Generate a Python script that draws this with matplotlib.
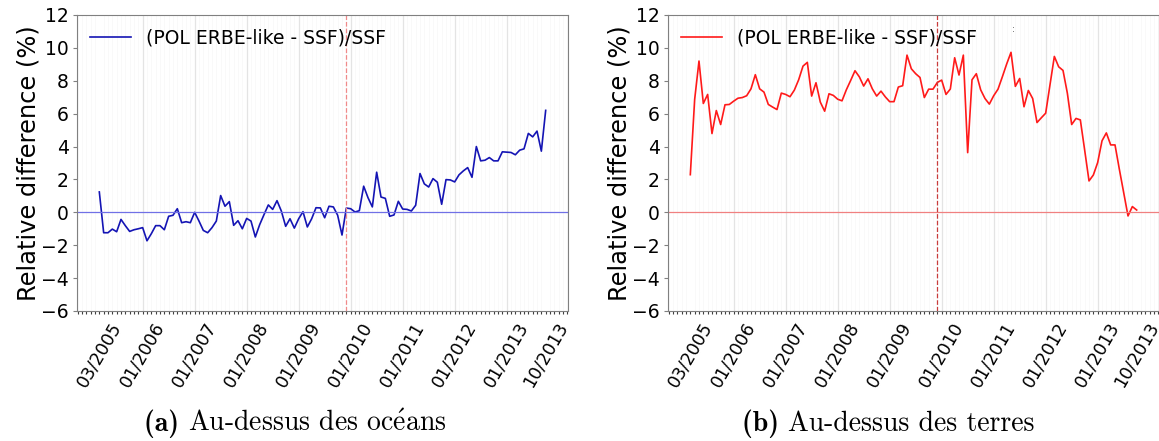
import numpy as np
import matplotlib
matplotlib.use("Agg")
import matplotlib.pyplot as plt
from matplotlib.ticker import MultipleLocator

plt.rcParams['mathtext.fontset'] = 'cm'

# monthly series, 03/2005 -> 10/2013
ocean_diff = [1.24, -1.24, -1.24, -1.02, -1.18, -0.43, -0.81, -1.16, -1.06, -1.00,
              -0.93, -1.73, -1.30, -0.81, -0.81, -1.06, -0.24, -0.18, 0.22, -0.63,
              -0.57, -0.63, 0.00, -0.53, -1.10, -1.24, -0.93, -0.53, 1.02, 0.37,
              0.65, -0.79, -0.51, -1.00, -0.37, -0.53, -1.50, -0.75, -0.14, 0.45,
              0.18, 0.71, 0.08, -0.85, -0.39, -0.96, -0.39, 0.04, -0.89, -0.39,
              0.28, 0.27, -0.33, 0.37, 0.33, -0.18, -1.38, 0.26, 0.22, 0.02,
              0.10, 1.59, 0.89, 0.33, 2.44, 0.93, 0.85, -0.24, -0.16, 0.67,
              0.20, 0.18, 0.08, 0.43, 2.36, 1.73, 1.54, 2.05, 1.83, 0.49,
              1.99, 1.97, 1.85, 2.28, 2.52, 2.72, 2.13, 4.00, 3.13, 3.17,
              3.33, 3.13, 3.13, 3.68, 3.66, 3.64, 3.50, 3.78, 3.86, 4.80,
              4.59, 4.94, 3.72, 6.20]

land_diff = [2.29, 6.86, 9.20, 6.62, 7.17, 4.79, 6.19, 5.34, 6.54, 6.56,
             6.76, 6.94, 6.98, 7.09, 7.51, 8.37, 7.51, 7.31, 6.56, 6.40,
             6.25, 7.25, 7.17, 7.03, 7.43, 8.06, 8.89, 9.12, 7.07, 7.88,
             6.70, 6.15, 7.21, 7.11, 6.88, 6.78, 7.45, 8.02, 8.61, 8.24,
             7.68, 8.12, 7.51, 7.07, 7.37, 7.02, 6.73, 6.73, 7.62, 7.70,
             9.56, 8.73, 8.43, 8.20, 6.98, 7.49, 7.49, 7.90, 8.04, 7.17,
             7.50, 9.40, 8.35, 9.56, 3.63, 8.06, 8.43, 7.45, 6.92, 6.58,
             7.09, 7.49, 8.24, 9.02, 9.73, 7.66, 8.14, 6.42, 7.41, 6.92,
             5.46, 5.75, 6.03, 7.76, 9.48, 8.85, 8.63, 7.25, 5.34, 5.71,
             5.62, 3.78, 1.91, 2.27, 3.03, 4.35, 4.83, 4.10, 4.10, 2.62,
             1.20, -0.22, 0.35, 0.14]

month_idx = np.arange(len(ocean_diff))
tick_idx = [0, 10, 22, 34, 46, 58, 70, 82, 94, 103]
tick_labels = ['03/2005', '01/2006', '01/2007', '01/2008', '01/2009',
               '01/2010', '01/2011', '01/2012', '01/2013', '10/2013']
switch_idx = 57  # 12/2009
legend_label = '(POL ERBE-like - SSF)/SSF'

fig = plt.figure(figsize=(11.59, 4.41), dpi=100)

W, H = 1159.0, 441.0
ax1 = fig.add_axes([77 / W, (H - 311) / H, 491 / W, 296 / H])
ax2 = fig.add_axes([668 / W, (H - 311) / H, 491 / W, 296 / H])

panels = [
    (ax1, ocean_diff, '#1414b4', '#7070e6', '#f08a8a'),
    (ax2, land_diff, '#ff1a1a', '#f08080', '#c83c3c'),
]

for ax, vals, col, zcol, vcol in panels:
    ax.plot(month_idx, vals, color=col, lw=1.2, label=legend_label)
    ax.axhline(0, color=zcol, lw=0.9)
    ax.axvline(switch_idx, color=vcol, lw=0.9, ls='--')
    ax.set_ylim(-6, 12)
    ax.set_yticks(np.arange(-6, 13, 2))
    ax.set_xticks(tick_idx)
    ax.set_xticklabels(tick_labels, rotation=60, fontsize=12.5)
    ax.xaxis.set_minor_locator(MultipleLocator(1))
    ax.tick_params(axis='x', which='both', length=2.5, width=0.8, color='#404040')
    ax.tick_params(axis='y', labelsize=13.5, length=3, pad=3, color='#808080')
    ax.grid(axis='x', which='minor', color='#f7f7f7', lw=0.5)
    ax.grid(axis='x', which='major', color='#e4e4e4', lw=0.9)
    # no grid line on the first / last labelled months
    gl = ax.get_xgridlines()
    gl[0].set_visible(False)
    gl[-1].set_visible(False)
    ax.set_axisbelow(True)
    for s in ax.spines.values():
        s.set_color('#808080')
    ax.set_ylabel('Relative difference (%)', fontsize=17.4, labelpad=0.5)
    ax.legend(loc='upper left', frameon=False, fontsize=13.5,
              handlelength=2.2, handletextpad=0.8, borderaxespad=0.3)

fig.text(1013 / W, 1 - 30 / H, ':', fontsize=6, color='#333333', ha='center', va='center')

for xc, tag, txt in [(295, '(a)', r'Au-dessus des oc$\mathrm{\acute{e}}$ans'),
                     (888, '(b)', 'Au-dessus des terres')]:
    t1 = fig.text(0, 0, tag + ' ', family=['cmb10', 'DejaVu Serif'], fontsize=20)
    t2 = fig.text(0, 0, txt, family=['cmr10', 'DejaVu Serif'], fontsize=20)
    fig.canvas.draw()
    r = fig.canvas.get_renderer()
    w1 = t1.get_window_extent(r).width
    w2 = t2.get_window_extent(r).width
    x0 = xc - (w1 + w2) / 2
    t1.set_position((x0 / W, 1 - 431 / H))
    t2.set_position(((x0 + w1) / W, 1 - 431 / H))

fig.savefig('out.png', dpi=100)
